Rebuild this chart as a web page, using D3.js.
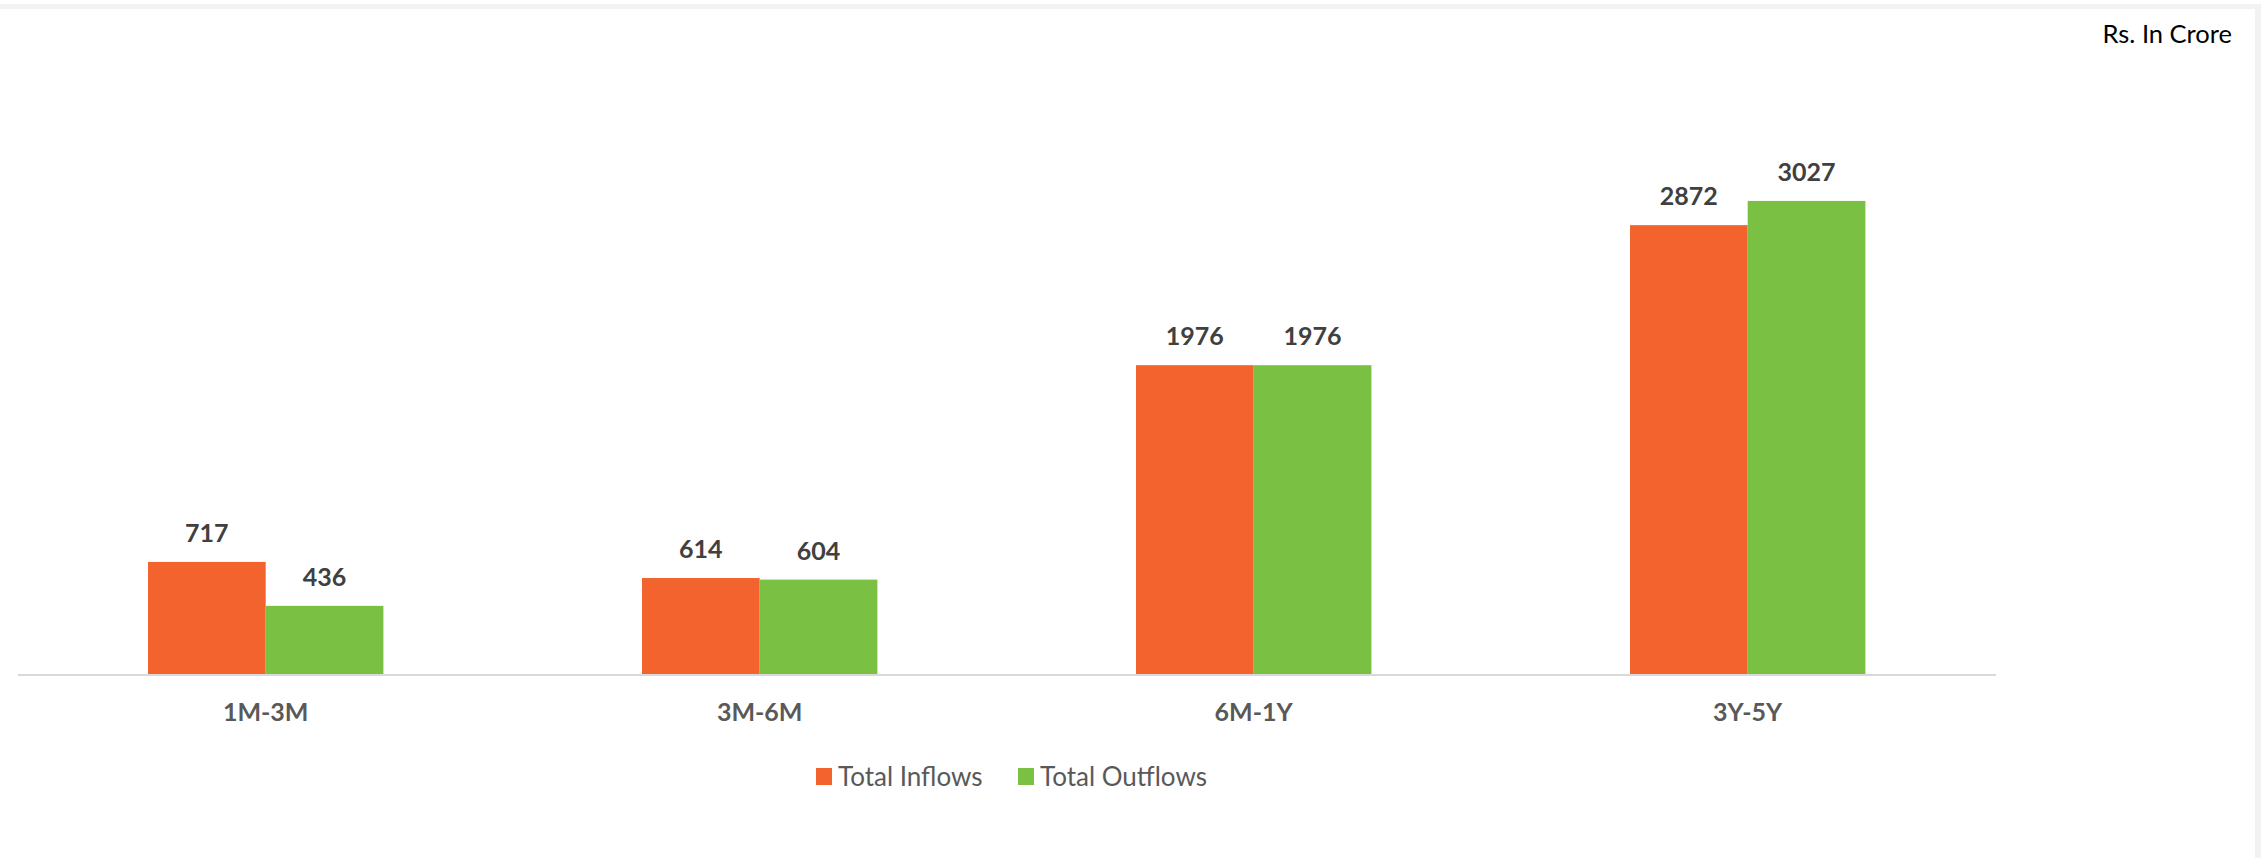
<!DOCTYPE html>
<html>
<head>
<meta charset="utf-8">
<script src="https://cdn.jsdelivr.net/npm/d3@7"></script>
<style>
  html, body { margin: 0; padding: 0; background: #ffffff; }
  svg { display: block; font-family: Lato, "Open Sans", sans-serif; }
</style>
</head>
<body>
<div id="chart"></div>
<script>
// Data
const categories = ["1M-3M", "3M-6M", "6M-1Y", "3Y-5Y"];
const seriesNames = ["Total Inflows", "Total Outflows"];
const inflows = [717, 614, 1976, 2872];
const outflows = [436, 604, 1976, 3027];
const colors = ["#f3632d", "#7ac143"];

// Dimensions
const W = 2261, H = 858;
const plot = { left: 18.7, right: 1994.7, top: 127, bottom: 674 };

const svg = d3.select("#chart").append("svg").attr("width", W).attr("height", H);

// Frame strips (top + right)
svg.append("rect").attr("x", 0).attr("y", 4).attr("width", W).attr("height", 5).attr("fill", "#f2f2f2");
svg.append("rect").attr("x", 2255).attr("y", 4).attr("width", 6).attr("height", H - 4).attr("fill", "#f2f2f2");

// Unit note
svg.append("text").attr("x", 2232).attr("y", 43).attr("text-anchor", "end")
  .attr("fill", "#000").style("font-size", "25.5px").text("Rs. In Crore");

// Scales
const x0 = d3.scaleBand().domain(categories).range([plot.left, plot.right])
  .paddingInner(0.5235).paddingOuter(0.26175);
const x1 = d3.scaleBand().domain(seriesNames).range([0, x0.bandwidth()]);
const y = d3.scaleLinear().domain([0, 3500]).range([plot.bottom, plot.top]);

const rows = categories.map((c, i) => ({ cat: c, vals: [inflows[i], outflows[i]] }));

// Bars
const groups = svg.selectAll(".grp").data(rows).enter().append("g")
  .attr("class", "grp").attr("transform", d => `translate(${x0(d.cat)},0)`);

groups.selectAll("rect").data(d => d.vals.map((v, j) => ({ s: seriesNames[j], v: v, j: j })))
  .enter().append("rect")
  .attr("x", d => x1(d.s))
  .attr("y", d => y(d.v))
  .attr("width", x1.bandwidth())
  .attr("height", d => y(0) - y(d.v))
  .attr("fill", d => colors[d.j]);

// Value labels
groups.selectAll("text.val").data(d => d.vals.map((v, j) => ({ s: seriesNames[j], v: v })))
  .enter().append("text").attr("class", "val")
  .attr("x", d => x1(d.s) + x1.bandwidth() / 2)
  .attr("y", d => y(d.v) - 20)
  .attr("text-anchor", "middle")
  .attr("fill", "#404040").style("font-size", "25px").style("font-weight", "bold")
  .text(d => d.v);

// Axis line
svg.append("line").attr("x1", 18).attr("x2", 1996).attr("y1", y(0) + 1).attr("y2", y(0) + 1)
  .attr("stroke", "#d9d9d9").attr("stroke-width", 2);

// Category labels
svg.selectAll("text.cat").data(categories).enter().append("text").attr("class", "cat")
  .attr("x", d => x0(d) + x0.bandwidth() / 2)
  .attr("y", 721)
  .attr("text-anchor", "middle")
  .attr("fill", "#595959").style("font-size", "25px").style("font-weight", "bold")
  .text(d => d);

// Legend
const legendX = [816, 1018];
const legend = svg.selectAll(".leg").data(seriesNames).enter().append("g")
  .attr("class", "leg").attr("transform", (d, i) => `translate(${legendX[i]},0)`);
legend.append("rect").attr("x", 0).attr("y", 768).attr("width", 16).attr("height", 17)
  .attr("fill", (d, i) => colors[i]);
legend.append("text").attr("x", 22).attr("y", 786)
  .attr("fill", "#595959").style("font-size", "26px").text(d => d);
</script>
</body>
</html>
